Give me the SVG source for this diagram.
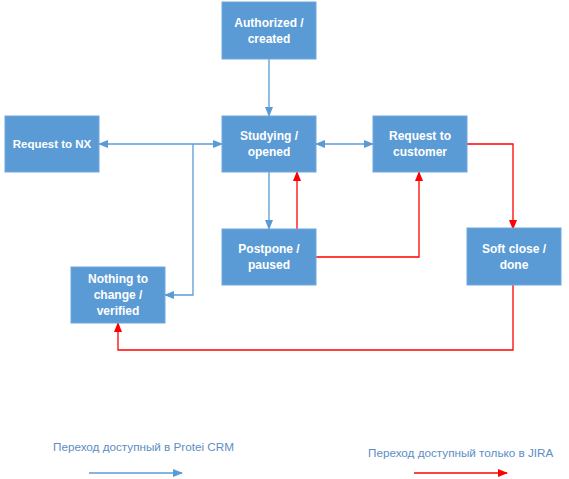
<svg xmlns="http://www.w3.org/2000/svg" width="569" height="479" viewBox="0 0 569 479">
<defs>
<marker id="ab" markerWidth="10" markerHeight="10" refX="9" refY="5" orient="auto-start-reverse" markerUnits="userSpaceOnUse" viewBox="0 0 10 10">
<path d="M0,1 L10,5 L0,9 Z" fill="#5B9BD5"/>
</marker>
<marker id="ar" markerWidth="10" markerHeight="10" refX="9" refY="5" orient="auto-start-reverse" markerUnits="userSpaceOnUse" viewBox="0 0 10 10">
<path d="M0,1 L10,5 L0,9 Z" fill="#FF0000"/>
</marker>
</defs>
<style>
.box{fill:#5B9BD5;stroke:#6FA8DC;stroke-width:1}
.lbl{font-family:"Liberation Sans",Arial,sans-serif;font-size:12px;font-weight:bold;fill:#FFFFFF;text-anchor:middle}
.b{fill:none;stroke:#5B9BD5;stroke-width:1.3}
.r{fill:none;stroke:#FF0000;stroke-width:1.3}
.leg{font-family:"Liberation Sans",Arial,sans-serif;font-size:11.7px;fill:#5B8DC4}
</style>
<rect width="569" height="479" fill="#FFFFFF"/>
<g id="connectors">
<path class="b" d="M269,59 V116" marker-end="url(#ab)"/>
<path class="b" d="M99,144 H222" marker-start="url(#ab)" marker-end="url(#ab)"/>
<path class="b" d="M193,144 V295 H165" marker-end="url(#ab)"/>
<path class="b" d="M316,144 H373" marker-start="url(#ab)" marker-end="url(#ab)"/>
<path class="b" d="M269,172 V229" marker-end="url(#ab)"/>
<path class="r" d="M297,229 V172" marker-end="url(#ar)"/>
<path class="r" d="M316,257 H419 V172" marker-end="url(#ar)"/>
<path class="r" d="M467,144 H513 V229" marker-end="url(#ar)"/>
<path class="r" d="M513,285 V350 H118 V323" marker-end="url(#ar)"/>
</g>
<g id="authorized">
<rect class="box" x="222" y="2" width="94" height="57"/>
<text class="lbl" x="269" y="27">Authorized /</text>
<text class="lbl" x="269" y="43">created</text>
</g>
<g id="request-nx">
<rect class="box" x="5" y="116" width="94" height="56"/>
<text class="lbl" x="52" y="148" style="font-size:11.5px">Request to NX</text>
</g>
<g id="studying">
<rect class="box" x="222" y="116" width="94" height="56"/>
<text class="lbl" x="269" y="140">Studying /</text>
<text class="lbl" x="269" y="156">opened</text>
</g>
<g id="request-customer">
<rect class="box" x="373" y="116" width="94" height="56"/>
<text class="lbl" x="420" y="140">Request to</text>
<text class="lbl" x="420" y="156">customer</text>
</g>
<g id="postpone">
<rect class="box" x="222" y="229" width="94" height="56"/>
<text class="lbl" x="269" y="253">Postpone /</text>
<text class="lbl" x="269" y="269">paused</text>
</g>
<g id="soft-close">
<rect class="box" x="467" y="228" width="94" height="57"/>
<text class="lbl" x="514" y="253">Soft close /</text>
<text class="lbl" x="514" y="269">done</text>
</g>
<g id="nothing">
<rect class="box" x="71" y="267" width="94" height="56"/>
<text class="lbl" x="118" y="283">Nothing to</text>
<text class="lbl" x="118" y="299">change /</text>
<text class="lbl" x="118" y="315">verified</text>
</g>
<g id="legend">
<text class="leg" x="53" y="451">Переход доступный в Protei CRM</text>
<path class="b" d="M89,473 H182" marker-end="url(#ab)"/>
<text class="leg" x="368" y="457">Переход доступный только в JIRA</text>
<path class="r" d="M414,473 H507" marker-end="url(#ar)"/>
</g>
</svg>
